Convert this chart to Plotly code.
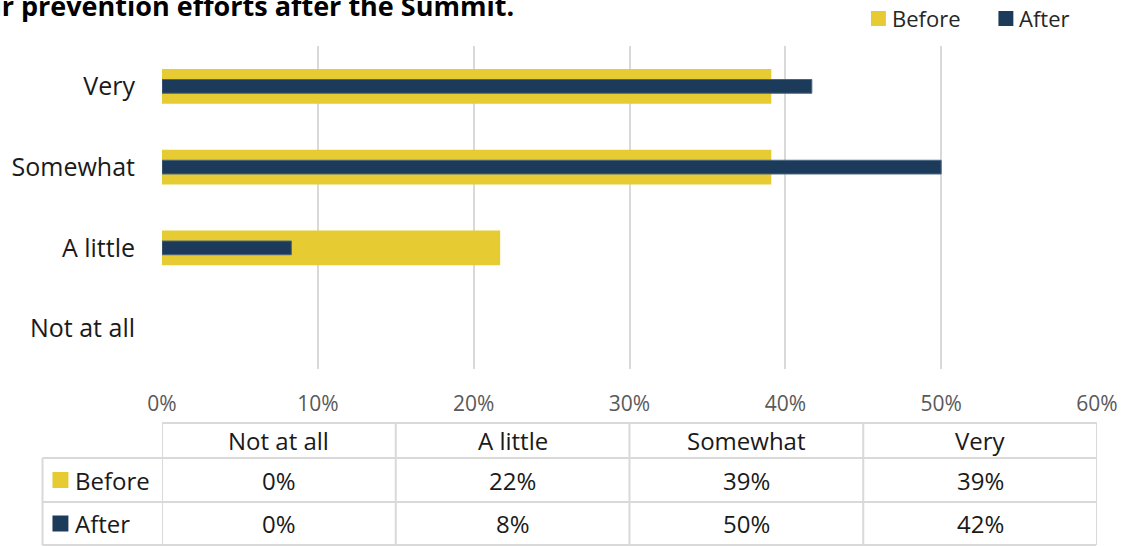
import plotly.graph_objects as go

# ---- data ----
categories = ["Not at all", "A little", "Somewhat", "Very"]
before_vals = [0.0, 21.7, 39.1, 39.1]
after_vals = [0.0, 8.3, 50.0, 41.7]
series_names = ["Before", "After"]
x_ticks = [0, 10, 20, 30, 40, 50, 60]
title_text = "Confidence in their prevention efforts after the Summit."

YELLOW = "#E6CB33"
NAVY = "#1C3B5A"
GRID = "#D9D9D9"
FONT = "Open Sans"
TXT = "#1a1a1a"

W, H = 1130, 546
L, R, T, B = 161, 30, 46, 177
PW, PH = W - L - R, H - T - B


def px(x):
    return (x - L) / PW


def py(y):
    return (H - B - y) / PH


fig = go.Figure()
fig.add_trace(go.Bar(
    y=categories, x=before_vals, orientation="h", name=series_names[0],
    marker=dict(color=YELLOW, line=dict(width=0)), width=0.43,
    showlegend=False, hoverinfo="x+name"))
fig.add_trace(go.Bar(
    y=categories, x=after_vals, orientation="h", name=series_names[1],
    marker=dict(color=NAVY, line=dict(color="#4A6782",
                                      width=[0 if v == 0 else 1 for v in after_vals])),
    width=0.17, showlegend=False, hoverinfo="x+name"))

shapes = []
annotations = []

# title (clipped at the top like the reference)
annotations.append(dict(
    text="<b>" + title_text + "</b>", xref="paper", yref="paper",
    x=px(517), y=py(26), xanchor="right", yanchor="bottom",
    showarrow=False, font=dict(family=FONT, size=27, color="#000000")))

# legend
leg = [(series_names[0], YELLOW, 873, 892), (series_names[1], NAVY, 1001, 1020)]
for name, col, sx, tx in leg:
    shapes.append(dict(type="rect", xref="paper", yref="paper",
                       x0=px(sx), x1=px(sx + 15), y0=py(26), y1=py(11),
                       fillcolor=col, line=dict(width=0)))
    annotations.append(dict(text=name, xref="paper", yref="paper",
                            x=px(tx), y=py(18), xanchor="left", yanchor="middle",
                            showarrow=False,
                            font=dict(family=FONT, size=22, color="#262626")))

# data table
col_edges = [0, 15, 30, 45, 60]
row_y = [423, 458, 502, 545]
lstyle = dict(color=GRID, width=2)
shapes.append(dict(type="line", xref="x", yref="paper", x0=0, x1=60,
                   y0=py(row_y[0]), y1=py(row_y[0]), line=lstyle))
for yy in row_y[1:]:
    shapes.append(dict(type="line", xref="paper", yref="paper", x0=px(41), x1=px(1099),
                       y0=py(yy), y1=py(yy), line=lstyle))
for ce in col_edges:
    shapes.append(dict(type="line", xref="x", yref="paper", x0=ce, x1=ce,
                       y0=py(row_y[0]), y1=py(row_y[-1]), line=lstyle))
shapes.append(dict(type="line", xref="paper", yref="paper", x0=px(41), x1=px(41),
                   y0=py(row_y[1]), y1=py(row_y[-1]), line=lstyle))

for i, cat in enumerate(categories):
    annotations.append(dict(text=cat, xref="x", yref="paper",
                            x=(col_edges[i] + col_edges[i + 1]) / 2,
                            y=py((row_y[0] + row_y[1]) / 2), xanchor="center",
                            yanchor="middle", showarrow=False,
                            font=dict(family=FONT, size=24, color=TXT)))
rows = [(series_names[0], YELLOW, before_vals), (series_names[1], NAVY, after_vals)]
for r, (name, col, vals) in enumerate(rows):
    yc = (row_y[r + 1] + row_y[r + 2]) / 2
    shapes.append(dict(type="rect", xref="paper", yref="paper",
                       x0=px(51), x1=px(67), y0=py(yc + 8), y1=py(yc - 8),
                       fillcolor=col, line=dict(width=0)))
    annotations.append(dict(text=name, xref="paper", yref="paper",
                            x=px(72), y=py(yc), xanchor="left", yanchor="middle",
                            showarrow=False,
                            font=dict(family=FONT, size=24, color=TXT)))
    for i, v in enumerate(vals):
        annotations.append(dict(text=f"{round(v)}%", xref="x", yref="paper",
                                x=(col_edges[i] + col_edges[i + 1]) / 2,
                                y=py(yc), xanchor="center", yanchor="middle",
                                showarrow=False,
                                font=dict(family=FONT, size=24, color=TXT)))

fig.update_layout(
    width=W, height=H,
    margin=dict(l=L, r=R, t=T, b=B),
    paper_bgcolor="white", plot_bgcolor="white",
    barmode="overlay",
    font=dict(family=FONT),
    xaxis=dict(range=[0, 60], tickvals=x_ticks,
               ticktext=[f"{t}%" for t in x_ticks],
               showgrid=True, gridcolor=GRID, gridwidth=2,
               zeroline=False, showline=False, ticks="",
               ticklabelstandoff=20,
               tickfont=dict(family=FONT, size=21, color="#595959")),
    yaxis=dict(categoryorder="array", categoryarray=categories,
               range=[-0.5, 3.5], showgrid=False, zeroline=False,
               showline=False, ticks="", ticklabelstandoff=26,
               tickfont=dict(family=FONT, size=25, color=TXT)),
    shapes=shapes, annotations=annotations,
)

fig.write_html("out.html")
